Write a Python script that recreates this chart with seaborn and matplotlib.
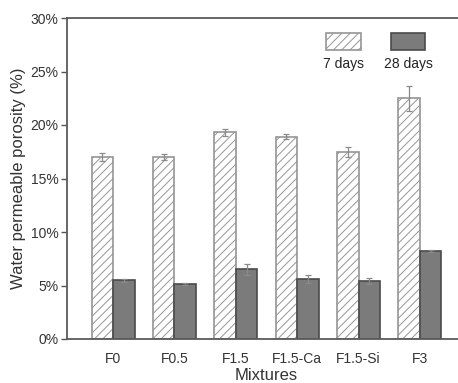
import matplotlib
matplotlib.use("Agg")
import matplotlib.pyplot as plt
from matplotlib.patches import Rectangle
from matplotlib.ticker import PercentFormatter
import seaborn as sns
import pandas as pd
import numpy as np

mixtures = ["F0", "F0.5", "F1.5", "F1.5-Ca", "F1.5-Si", "F3"]
days7 = [17.0, 17.0, 19.3, 18.9, 17.5, 22.5]
days28 = [5.5, 5.15, 6.5, 5.6, 5.4, 8.25]
err7 = [0.4, 0.3, 0.35, 0.25, 0.45, 1.15]
err28 = [0.15, 0.12, 0.5, 0.35, 0.3, 0.08]
series = ["7 days", "28 days"]

df = pd.DataFrame({
    "Mixtures": mixtures * 2,
    "porosity": days7 + days28,
    "err": err7 + err28,
    "age": [series[0]] * len(mixtures) + [series[1]] * len(mixtures),
})

sns.set_style("white")
plt.rcParams["font.family"] = ["Liberation Sans", "DejaVu Sans"]
plt.rcParams["hatch.linewidth"] = 0.7

fig = plt.figure(figsize=(4.58, 3.83), dpi=100)
ax = fig.add_axes([67 / 458, 44 / 383, (466 - 67) / 458, (339 - 18) / 383])

sns.barplot(data=df, x="Mixtures", y="porosity", hue="age", order=mixtures,
            hue_order=series, palette=["white", "#7b7b7b"], width=0.7,
            errorbar=None, legend=False, ax=ax)

# style bars + error bars
n = len(mixtures)
for i, p in enumerate(ax.patches[:2 * n]):
    cx = p.get_x() + p.get_width() / 2
    h = p.get_height()
    if i < n:
        p.set_facecolor("white")
        p.set_edgecolor("#959595")
        p.set_hatch("////")
        e = err7[i]
    else:
        p.set_edgecolor("#4a4a4a")
        e = err28[i - n]
    p.set_linewidth(1.2)
    ax.errorbar(cx, h, yerr=e, color="#8a8a8a", capsize=2.5, lw=0.9, capthick=0.9)

ax.set_ylim(0, 30)
ax.set_xlim(-0.75, 5.75)
ax.yaxis.set_major_formatter(PercentFormatter(decimals=0))
ax.set_yticks(np.arange(0, 31, 5))
ax.tick_params(axis="y", direction="out", length=4, width=1, color="#555555",
               labelsize=10, labelcolor="#333333", left=True, pad=2)
ax.tick_params(axis="x", bottom=False, labelsize=10, labelcolor="#333333", pad=6)
for s in ["left", "bottom", "top"]:
    ax.spines[s].set_color("#5a5a5a")
    ax.spines[s].set_linewidth(1.3)
ax.spines["right"].set_visible(False)

ax.set_xlabel("Mixtures", fontsize=12, color="#333333", labelpad=1)
ax.set_ylabel("Water permeable porosity (%)", fontsize=12, color="#333333", labelpad=3)

# legend: swatches above labels
for x0, lab, fc, ec, hatch in [(0.65, series[0], "white", "#959595", "////"),
                                (0.811, series[1], "#7b7b7b", "#4a4a4a", None)]:
    ax.add_patch(Rectangle((x0, 0.9), 0.087, 0.053, transform=ax.transAxes,
                           facecolor=fc, edgecolor=ec, hatch=hatch, lw=1.2,
                           clip_on=False))
    ax.text(x0 + 0.0435, 0.88, lab, transform=ax.transAxes, ha="center",
            va="top", fontsize=10, color="#222222")

fig.savefig("out.png", dpi=100)
